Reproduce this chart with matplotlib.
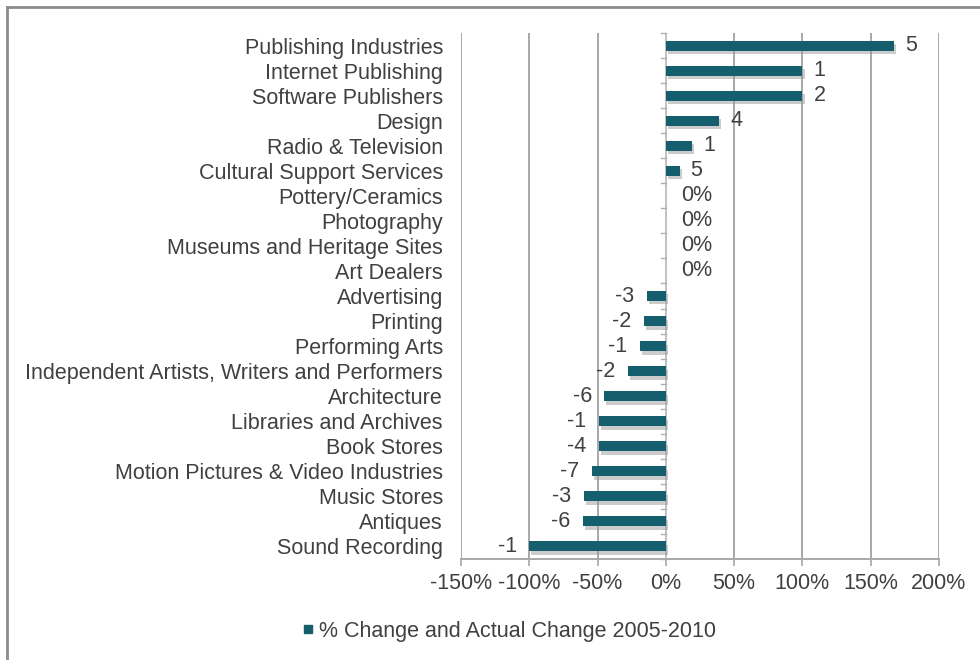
import numpy as np
import matplotlib.pyplot as plt
from matplotlib import patheffects as pe
from matplotlib.lines import Line2D

# ------------------------------------------------------------- Dane
categories = [
    "Publishing Industries", "Internet Publishing", "Software Publishers", "Design",
    "Radio & Television", "Cultural Support Services", "Pottery/Ceramics", "Photography",
    "Museums and Heritage Sites", "Art Dealers", "Advertising", "Printing",
    "Performing Arts", "Independent Artists, Writers and Performers", "Architecture",
    "Libraries and Archives", "Book Stores", "Motion Pictures & Video Industries",
    "Music Stores", "Antiques", "Sound Recording",
]
pct_change = [167, 100, 100, 39, 19, 10, 0, 0, 0, 0, -14, -16, -19, -28, -45,
              -49, -49, -54, -60, -61, -100]
bar_labels = ["5", "1", "2", "4", "1", "5", "0%", "0%", "0%", "0%", "-3", "-2", "-1",
              "-2", "-6", "-1", "-4", "-7", "-3", "-6", "-1"]
x_ticks = [-150, -100, -50, 0, 50, 100, 150, 200]
legend_label = "% Change and Actual Change 2005-2010"

# ------------------------------------------------------------- Styl
plt.rcParams['font.family'] = ['Liberation Sans', 'DejaVu Sans']
BAR_COLOR = "#155e6e"
TEXT_COLOR = "#404040"
GRID_COLOR = "#a8a8a8"
FS = 15.5

fig = plt.figure(figsize=(9.8, 6.6), dpi=100)
ax = fig.add_axes([461 / 980, 1 - 559 / 660, 478 / 980, 526 / 660])

y = np.arange(len(categories))
bars = ax.barh(y, pct_change, height=0.4, color=BAR_COLOR, zorder=3)
for b in bars:
    b.set_path_effects([pe.SimplePatchShadow(offset=(1.5, -2.5), shadow_rgbFace="#9a9a9a", alpha=0.5),
                        pe.Normal()])

# etykiety przy słupkach
for yi, v, lab in zip(y, pct_change, bar_labels):
    if v > 0:
        ax.annotate(lab, (v, yi), xytext=(8, 0), textcoords="offset points",
                    ha="left", va="center", fontsize=FS, color=TEXT_COLOR)
    elif v < 0:
        ax.annotate(lab, (v, yi), xytext=(-9, 0), textcoords="offset points",
                    ha="right", va="center", fontsize=FS, color=TEXT_COLOR)
    else:
        ax.annotate(lab, (v, yi), xytext=(11, 0), textcoords="offset points",
                    ha="left", va="center", fontsize=FS, color=TEXT_COLOR)

ax.set_xlim(x_ticks[0], x_ticks[-1])
ax.set_ylim(len(categories) - 0.5, -0.5)
ax.set_xticks(x_ticks)
ax.set_xticklabels([f"{t}%" for t in x_ticks])
ax.set_yticks(y)
ax.set_yticklabels(categories)
ax.tick_params(axis="y", length=0, pad=13, labelsize=FS, labelcolor=TEXT_COLOR)
ax.tick_params(axis="x", length=5, width=1.2, color=GRID_COLOR, pad=5,
               labelsize=FS, labelcolor=TEXT_COLOR)

ax.grid(axis="x", color=GRID_COLOR, linewidth=1.4, zorder=0)
for s in ["top", "right", "left"]:
    ax.spines[s].set_visible(False)
ax.spines["bottom"].set_color(GRID_COLOR)
ax.spines["bottom"].set_linewidth(1.4)

# oś pionowa w zerze z kreskami między kategoriami
ax.axvline(0, color="#c8c8c8", linewidth=1.2, zorder=2)
for yb in np.arange(-0.5, len(categories), 1.0):
    ax.plot([-3.5, 0], [yb, yb], color="#b0b0b0", linewidth=1.0, zorder=2, clip_on=False)

# legenda
handle = Line2D([], [], marker="s", linestyle="none", markersize=6,
                color=BAR_COLOR)
fig.legend([handle], [legend_label], loc="center", bbox_to_anchor=(508 / 980, 1 - 631 / 660),
           frameon=False, fontsize=FS, labelcolor=TEXT_COLOR, handletextpad=0.1,
           handlelength=0.8)

# ramka okna
fig.add_artist(Line2D([7 / 980, 1], [1 - 7 / 660, 1 - 7 / 660], color="#8c8c8c", linewidth=2))
fig.add_artist(Line2D([7 / 980, 7 / 980], [0, 1 - 7 / 660], color="#8c8c8c", linewidth=2))

fig.savefig("out.png", dpi=100)
